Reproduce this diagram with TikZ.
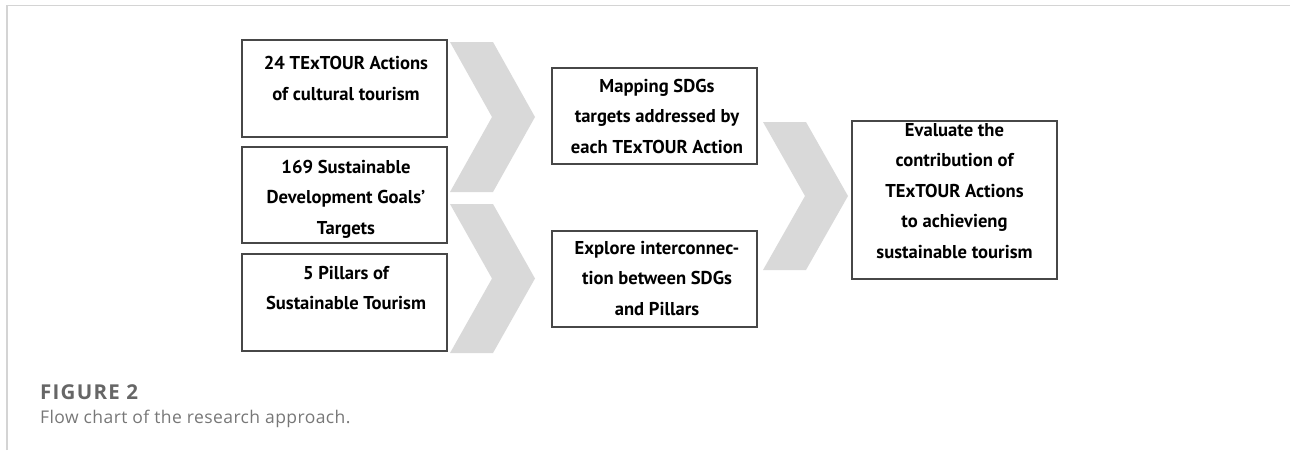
\documentclass[tikz,border=0pt]{standalone}
\usepackage{fontspec}
\newfontfamily\boxfont{PT Sans}
\newfontfamily\capboldfont{Open Sans}[LetterSpace=6]
\newfontfamily\capfont{Open Sans}[LetterSpace=2.4]
\definecolor{framegray}{HTML}{D4D4D4}
\definecolor{chevgray}{HTML}{D9D9D9}
\definecolor{boxline}{HTML}{474747}
\definecolor{capbold}{HTML}{666666}
\definecolor{captext}{HTML}{777777}
\begin{document}
\begin{tikzpicture}[x=1pt,y=-1pt,
  box/.style={draw=boxline, line width=1.1pt, minimum width=205pt, inner sep=0pt},
  txt/.style={align=center, inner sep=0pt, font=\boxfont\bfseries\fontsize{18.6}{30.5}\selectfont},
  chev/.style={fill=chevgray, draw=none}]
\useasboundingbox (0,0) rectangle (1290,450);
% frame
\draw[framegray, line width=1.5pt] (7,450) -- (7,5.5) -- (1290,5.5);
% chevrons
\fill[chev] (450,42) -- (493,42) -- (535,117) -- (493,192) -- (450,192) -- (492,117) -- cycle;
\fill[chev] (450,204) -- (493,204) -- (535,278.5) -- (493,353) -- (450,353) -- (492,278.5) -- cycle;
\fill[chev] (763,122) -- (806,122) -- (848,196) -- (806,270) -- (763,270) -- (805,196) -- cycle;
% boxes
\node[box, minimum height=97pt] (b1) at (344.5,88.5) {};
\node[box, minimum height=96pt] (b2) at (344.5,195) {};
\node[box, minimum height=97pt] (b3) at (344.5,302.5) {};
\node[box, minimum height=96pt] (b4) at (654.5,116) {};
\node[box, minimum height=96pt] (b5) at (654.5,279) {};
\node[box, minimum height=158pt] (b6) at (954.5,200) {};
% texts
\node[txt] (t1) at (346,79) {\strut 24 TExTOUR Actions\\\strut of cultural tourism};
\node[txt] (t2) at (346,197.5) {\strut 169 Sustainable\\\strut Development Goals’\\\strut Targets};
\node[txt] (t3) at (346,288.5) {\strut 5 Pillars of\\\strut Sustainable Tourism};
\node[txt] (t4) at (657,116.5) {\strut Mapping SDGs\\\strut targets addressed by\\\strut each TExTOUR Action};
\node[txt] (t5) at (657,278.5) {\strut Explore interconnec-\\\strut tion between SDGs\\\strut and Pillars};
\node[txt] (t6) at (954.5,191) {\strut Evaluate the\\\strut contribution of\\\strut TExTOUR Actions\\\strut to achievieng\\\strut sustainable tourism};
% caption
\node[anchor=base west, inner sep=0pt, font=\capboldfont\bfseries\fontsize{20.5}{22}\selectfont, text=capbold] (fig) at (40,399.5) {FIGURE 2};
\node[anchor=base west, inner sep=0pt, font=\capfont\fontsize{17.5}{22}\selectfont, text=captext] (cap) at (40,423) {Flow chart of the research approach.};
\end{tikzpicture}
\end{document}
